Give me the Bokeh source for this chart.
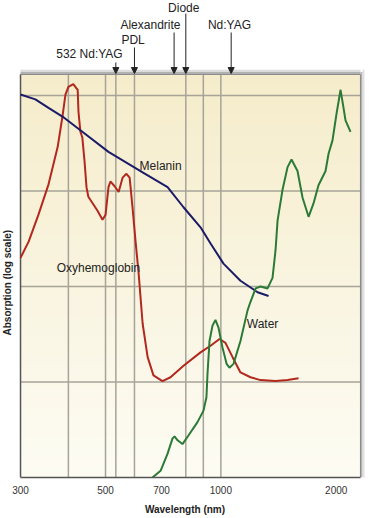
import numpy as np
from bokeh.plotting import figure
from bokeh.models import (Range1d, FixedTicker, Label, Arrow, NormalHead,
                          BoxAnnotation, NumeralTickFormatter)
from bokeh.embed import file_html
from bokeh.resources import INLINE

# ---------------- data (wavelength in nm, absorption in log decades) ----------------
hb_wl = [300, 315, 334, 355, 375, 386, 393, 400, 412, 423, 425, 430, 435, 441, 446,
         451, 477, 491, 500, 509, 515, 528, 541, 554, 567, 578, 588, 599, 610, 625,
         644, 667, 704, 739, 799, 885, 940, 992, 1028, 1073, 1125, 1195, 1269, 1389,
         1493, 1595]
hb_abs = [2.30, 2.47, 2.75, 3.07, 3.46, 3.78, 4.01, 4.09, 4.12, 4.06, 3.83, 3.62, 3.56,
          3.30, 3.04, 2.94, 2.79, 2.70, 2.75, 3.04, 3.10, 3.05, 2.99, 3.14, 3.18, 3.14,
          2.83, 2.47, 2.14, 1.61, 1.26, 1.07, 1.01, 1.05, 1.17, 1.31, 1.38, 1.45, 1.41,
          1.26, 1.10, 1.05, 1.02, 1.01, 1.02, 1.04]

mel_wl = [300, 328, 355, 386, 435, 509, 628, 726, 799, 885, 940, 1016, 1125, 1247, 1332]
mel_abs = [4.01, 3.96, 3.87, 3.78, 3.62, 3.41, 3.19, 3.04, 2.83, 2.62, 2.45, 2.24, 2.06,
           1.94, 1.90]

water_wl = [663, 696, 726, 748, 757, 771, 794, 823, 869, 901, 917, 923, 934, 951, 968,
            986, 1010, 1035, 1053, 1079, 1125, 1174, 1195, 1232, 1269, 1324, 1364, 1389,
            1406, 1448, 1493, 1529, 1585, 1634, 1694, 1745, 1798, 1876, 1910, 1956, 2004,
            2053, 2090, 2115, 2180]
water_abs = [0.0, 0.07, 0.25, 0.41, 0.43, 0.39, 0.35, 0.44, 0.58, 0.70, 0.84, 1.09, 1.43,
             1.59, 1.65, 1.57, 1.36, 1.19, 1.15, 1.19, 1.43, 1.75, 1.84, 1.98, 2.00, 1.98,
             2.09, 2.38, 2.69, 3.01, 3.25, 3.33, 3.21, 2.93, 2.73, 2.87, 3.06, 3.21, 3.39,
             3.53, 3.81, 4.06, 3.87, 3.74, 3.62]

x_ticks = [300, 500, 700, 1000, 2000]
grid_wl = [400, 500, 532, 595, 810, 900, 1000]
grid_decades = [1, 2, 3, 4]

laser_names = ["532 Nd:YAG", "PDL", "Alexandrite", "Diode", "Nd:YAG"]
laser_wl = [532, 595, 755, 810, 1064]

curve_names = ["Oxyhemoglobin", "Melanin", "Water"]
y_title = "Absorption (log scale)"
x_title = "Wavelength (nm)"

# ---------------- layout / style ----------------
FONT = "Liberation Sans"
NARROW = "Liberation Sans Narrow, Liberation Sans"
X_MIN, X_MAX = 300, 2315       # extent of the shaded chart area (nm)
Y_TOP = 4.22                   # extent of the shaded chart area (decades)
label_x = [454, 590, 655, 800, 1053]           # label centre (nm)
label_y = [4.44, 4.586, 4.743, 4.921, 4.743]   # label centre (decades)
arrow_y0 = [4.346, 4.503, 4.66, 4.859, 4.66]   # arrow start
curve_label_pos = [(479, 2.19), (696, 3.26), (1285, 1.61)]
y_title_pos = (277, 2.04)

p = figure(width=369, height=518, x_axis_type="log", y_axis_location=None,
           x_range=Range1d(266, 2443), y_range=Range1d(0, 4.995),
           output_backend="svg", toolbar_location=None,
           min_border_left=0, min_border_right=0, min_border_top=0,
           min_border_bottom=41)

p.background_fill_color = "white"
p.border_fill_color = "white"
p.outline_line_color = None
p.xgrid.visible = False
p.ygrid.visible = False

# vertical gradient of the chart background
top_rgb = np.array([245, 236, 202])
bot_rgb = np.array([253, 252, 244])
n = 40
for i in range(n):
    f = (i + 0.5) / n
    c = bot_rgb + (top_rgb - bot_rgb) * f
    col = "#%02x%02x%02x" % tuple(int(round(v)) for v in c)
    p.add_layout(BoxAnnotation(left=X_MIN, right=X_MAX,
                               bottom=Y_TOP * i / n, top=Y_TOP * (i + 1) / n + 0.01,
                               fill_color=col, fill_alpha=1, line_color=None,
                               level="image"))
# drop shadow (top and right)
for (l, r, b, t, col) in [(X_MIN, X_MAX, Y_TOP, Y_TOP + 0.025, "#b0b0b0"),
                          (X_MIN, X_MAX, Y_TOP + 0.025, Y_TOP + 0.05, "#dcdcdc"),
                          (X_MAX, 2343, 0, Y_TOP + 0.025, "#b8b8b8"),
                          (2343, 2371, 0, Y_TOP + 0.05, "#e0e0e0")]:
    p.add_layout(BoxAnnotation(left=l, right=r, bottom=b, top=t, fill_color=col,
                               fill_alpha=1, line_color=None, level="image"))

# grid lines
p.segment(x0=grid_wl, y0=[0] * len(grid_wl), x1=grid_wl, y1=[Y_TOP] * len(grid_wl),
          line_color="#a7a398", line_width=1.5)
p.segment(x0=[X_MIN] * len(grid_decades), y0=grid_decades,
          x1=[X_MAX] * len(grid_decades), y1=grid_decades,
          line_color="#a7a398", line_width=1.5)
# frame
p.segment(x0=[X_MAX], y0=[0], x1=[X_MAX], y1=[Y_TOP], line_color="#8c8c8c", line_width=1.2)
p.segment(x0=[X_MIN], y0=[Y_TOP], x1=[X_MAX], y1=[Y_TOP], line_color="#8c8c8c", line_width=1.2)
p.segment(x0=[X_MIN], y0=[0], x1=[X_MIN], y1=[Y_TOP], line_color="#555555", line_width=1.5)

# x axis
xa = p.xaxis[0]
xa.bounds = (X_MIN, X_MAX)
xa.ticker = FixedTicker(ticks=x_ticks)
xa.formatter = NumeralTickFormatter(format="0")
xa.axis_label = x_title
xa.axis_label_text_font = FONT
xa.axis_label_text_font_style = "bold"
xa.axis_label_text_font_size = "10px"
xa.axis_label_text_color = "#222222"
xa.axis_label_standoff = 7
xa.major_label_text_font = FONT
xa.major_label_text_font_size = "10px"
xa.major_label_text_color = "#333333"
xa.major_label_standoff = 8
xa.major_tick_line_color = None
xa.minor_tick_line_color = None
xa.major_tick_out = 0
xa.minor_tick_out = 0
xa.axis_line_color = "#555555"
xa.axis_line_width = 1.5

# y title
p.add_layout(Label(x=y_title_pos[0], y=y_title_pos[1], text=y_title, angle=np.pi / 2,
                   text_font=FONT, text_font_style="bold", text_font_size="10px",
                   text_color="#222222", text_align="center", text_baseline="middle"))

# curves
p.line(hb_wl, hb_abs, line_color="#b3281d", line_width=2)
p.line(mel_wl, mel_abs, line_color="#1b1b68", line_width=2)
p.line(water_wl, water_abs, line_color="#2b7a36", line_width=2)

for name, (lx, ly) in zip(curve_names, curve_label_pos):
    p.add_layout(Label(x=lx, y=ly, text=name, text_font=NARROW, text_font_size="12px",
                       text_color="#222222", text_align="center",
                       text_baseline="middle"))

# laser markers above the chart
for name, wl, lx, ly, y0 in zip(laser_names, laser_wl, label_x, label_y, arrow_y0):
    p.add_layout(Arrow(end=NormalHead(size=6, fill_color="#222222",
                                      line_color="#222222"),
                       x_start=wl, y_start=y0, x_end=wl, y_end=Y_TOP + 0.01,
                       line_color="#222222", line_width=1))
    p.add_layout(Label(x=lx, y=ly, text=name, text_font=NARROW, text_font_size="12px",
                       text_color="#222222", text_align="center",
                       text_baseline="middle"))

open("out.html", "w").write(file_html(p, INLINE))
